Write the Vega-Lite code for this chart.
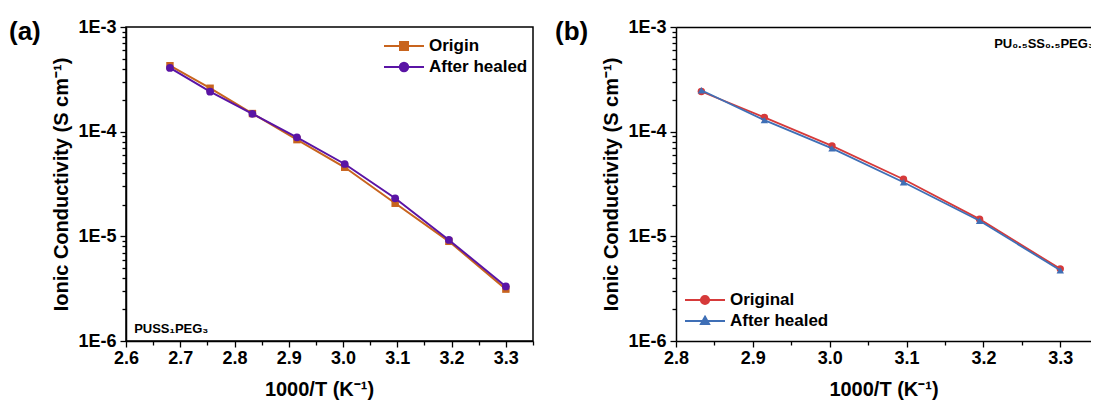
{
  "$schema": "https://vega.github.io/schema/vega-lite/v6.json",
  "background": "white",
  "padding": {"left": 8, "top": 17, "right": 0, "bottom": 0},
  "config": {
    "font": "Liberation Sans",
    "view": {"stroke": "black", "strokeWidth": 1.5},
    "axis": {
      "grid": false,
      "domainColor": "black",
      "domainWidth": 1.5,
      "tickColor": "black",
      "tickWidth": 1.3,
      "labelFont": "Liberation Sans",
      "labelFontWeight": "bold",
      "labelFontSize": 18,
      "labelColor": "black",
      "titleFont": "Liberation Sans",
      "titleFontWeight": "bold",
      "titleFontSize": 20,
      "titleColor": "black"
    },
    "legend": {
      "labelFont": "Liberation Sans",
      "labelFontWeight": "bold",
      "labelFontSize": 17,
      "labelColor": "black",
      "labelOffset": 14,
      "symbolSize": 400,
      "symbolStrokeWidth": 2,
      "rowPadding": 2,
      "padding": 0,
      "title": null
    },
    "title": {"fontSize": 26, "fontWeight": "bold", "color": "black", "anchor": "start", "frame": "group", "font": "Liberation Sans"}
  },
  "datasets": {
    "conductivity": [
      {"panel": "a", "series": "Origin", "invT": 2.681, "sigma": 4.27e-4},
      {"panel": "a", "series": "Origin", "invT": 2.755, "sigma": 2.60e-4},
      {"panel": "a", "series": "Origin", "invT": 2.833, "sigma": 1.49e-4},
      {"panel": "a", "series": "Origin", "invT": 2.915, "sigma": 8.39e-5},
      {"panel": "a", "series": "Origin", "invT": 3.003, "sigma": 4.57e-5},
      {"panel": "a", "series": "Origin", "invT": 3.096, "sigma": 2.07e-5},
      {"panel": "a", "series": "Origin", "invT": 3.195, "sigma": 8.96e-6},
      {"panel": "a", "series": "Origin", "invT": 3.300, "sigma": 3.13e-6},
      {"panel": "a", "series": "After healed", "invT": 2.681, "sigma": 4.06e-4},
      {"panel": "a", "series": "After healed", "invT": 2.755, "sigma": 2.41e-4},
      {"panel": "a", "series": "After healed", "invT": 2.833, "sigma": 1.48e-4},
      {"panel": "a", "series": "After healed", "invT": 2.915, "sigma": 8.83e-5},
      {"panel": "a", "series": "After healed", "invT": 3.003, "sigma": 4.91e-5},
      {"panel": "a", "series": "After healed", "invT": 3.096, "sigma": 2.31e-5},
      {"panel": "a", "series": "After healed", "invT": 3.195, "sigma": 9.23e-6},
      {"panel": "a", "series": "After healed", "invT": 3.300, "sigma": 3.32e-6},
      {"panel": "b", "series": "Original", "invT": 2.833, "sigma": 2.42e-4},
      {"panel": "b", "series": "Original", "invT": 2.915, "sigma": 1.37e-4},
      {"panel": "b", "series": "Original", "invT": 3.003, "sigma": 7.31e-5},
      {"panel": "b", "series": "Original", "invT": 3.096, "sigma": 3.51e-5},
      {"panel": "b", "series": "Original", "invT": 3.195, "sigma": 1.46e-5},
      {"panel": "b", "series": "Original", "invT": 3.300, "sigma": 4.89e-6},
      {"panel": "b", "series": "After healed", "invT": 2.833, "sigma": 2.49e-4},
      {"panel": "b", "series": "After healed", "invT": 2.915, "sigma": 1.29e-4},
      {"panel": "b", "series": "After healed", "invT": 3.003, "sigma": 6.93e-5},
      {"panel": "b", "series": "After healed", "invT": 3.096, "sigma": 3.29e-5},
      {"panel": "b", "series": "After healed", "invT": 3.195, "sigma": 1.41e-5},
      {"panel": "b", "series": "After healed", "invT": 3.300, "sigma": 4.74e-6}
    ],
    "notes": [
      {"panel": "a", "label": "PUSS₁PEG₃", "invT": 2.615, "sigma": 1.3e-6},
      {"panel": "b", "label": "PU₀.₅SS₀.₅PEG₃", "invT": 3.214, "sigma": 6.9e-4}
    ]
  },
  "hconcat": [
    {
      "width": 407,
      "height": 314,
      "title": {"text": "(a)", "dx": -117, "dy": 31},
      "data": {"name": "conductivity"},
      "layer": [
        {
          "transform": [{"filter": "datum.panel === 'a' && datum.series === 'Origin'"}],
          "mark": {"type": "line", "strokeWidth": 2},
          "encoding": {
            "x": {"field": "invT", "type": "quantitative",
              "scale": {"domain": [2.6, 3.35], "nice": false, "zero": false},
              "axis": {"title": "1000/T (K⁻¹)", "tickCount": 100, "values": [2.6, 2.65, 2.7, 2.75, 2.8, 2.85, 2.9, 2.95, 3.0, 3.05, 3.1, 3.15, 3.2, 3.25, 3.3, 3.35],
                "labelExpr": "abs(datum.value * 10 - round(datum.value * 10)) < 0.001 ? format(datum.value, '.1f') : ''",
                "tickSize": {"condition": {"test": "abs(datum.value * 10 - round(datum.value * 10)) < 0.001", "value": 6}, "value": 4},
                "labelPadding": 2, "titlePadding": 12, "titleX": 193, "labelFlush": false, "labelOverlap": false}},
            "y": {"field": "sigma", "type": "quantitative",
              "scale": {"type": "log", "domain": [1e-6, 1e-3], "nice": false},
              "axis": {"title": "Ionic Conductivity (S cm⁻¹)", "tickCount": 100,
                "values": [1e-6, 2e-6, 3e-6, 4e-6, 5e-6, 6e-6, 7e-6, 8e-6, 9e-6, 1e-5, 2e-5, 3e-5, 4e-5, 5e-5, 6e-5, 7e-5, 8e-5, 9e-5, 1e-4, 2e-4, 3e-4, 4e-4, 5e-4, 6e-4, 7e-4, 8e-4, 9e-4, 1e-3],
                "labelExpr": "abs(log(datum.value) / LN10 - round(log(datum.value) / LN10)) < 0.001 ? '1E' + round(log(datum.value) / LN10) : ''",
                "tickSize": {"condition": {"test": "abs(log(datum.value) / LN10 - round(log(datum.value) / LN10)) < 0.001", "value": 6}, "value": 4},
                "labelPadding": 4, "titlePadding": 6, "labelFlush": false, "labelOverlap": false}},
            "color": {"field": "series", "type": "nominal",
              "scale": {"domain": ["Origin", "After healed"], "range": ["#c8641e", "#5a14a5"]},
              "legend": {"orient": "none", "legendX": 267, "legendY": 8,
                "encode": {"symbols": {"update": {
                  "shape": {"signal": "datum.value === 'Origin' ? 'M-2,0H2M-0.4,-0.4H0.4V0.4H-0.4Z' : 'M-2,0H2M0.42,0A0.42,0.42,0,1,1,-0.42,0A0.42,0.42,0,1,1,0.42,0Z'"},
                  "fill": {"signal": "datum.value === 'Origin' ? '#c8641e' : '#5a14a5'"},
                  "stroke": {"signal": "datum.value === 'Origin' ? '#c8641e' : '#5a14a5'"},
                  "strokeWidth": {"value": 2},
                  "opacity": {"value": 1}
                }}}}}
          }
        },
        {
          "transform": [{"filter": "datum.panel === 'a' && datum.series === 'Origin'"}],
          "mark": {"type": "point", "shape": "square", "filled": true, "size": 55, "opacity": 1},
          "encoding": {
            "x": {"field": "invT", "type": "quantitative"},
            "y": {"field": "sigma", "type": "quantitative"},
            "color": {"field": "series", "type": "nominal"}
          }
        },
        {
          "transform": [{"filter": "datum.panel === 'a' && datum.series === 'After healed'"}],
          "mark": {"type": "line", "strokeWidth": 2},
          "encoding": {
            "x": {"field": "invT", "type": "quantitative"},
            "y": {"field": "sigma", "type": "quantitative"},
            "color": {"field": "series", "type": "nominal"}
          }
        },
        {
          "transform": [{"filter": "datum.panel === 'a' && datum.series === 'After healed'"}],
          "mark": {"type": "point", "shape": "circle", "filled": true, "size": 60, "opacity": 1},
          "encoding": {
            "x": {"field": "invT", "type": "quantitative"},
            "y": {"field": "sigma", "type": "quantitative"},
            "color": {"field": "series", "type": "nominal"}
          }
        },
        {
          "data": {"name": "notes"},
          "transform": [{"filter": "datum.panel === 'a'"}],
          "mark": {"type": "text", "align": "left", "baseline": "middle", "fontSize": 13, "fontWeight": "bold", "color": "black", "font": "Liberation Sans"},
          "encoding": {
            "x": {"field": "invT", "type": "quantitative"},
            "y": {"field": "sigma", "type": "quantitative"},
            "text": {"field": "label"}
          }
        }
      ]
    },
    {
      "width": 415,
      "height": 314,
      "title": {"text": "(b)", "dx": -121, "dy": 31},
      "view": {"stroke": null},
      "data": {"name": "conductivity"},
      "resolve": {"axis": {"x": "independent"}},
      "layer": [
        {
          "transform": [{"filter": "datum.panel === 'b' && datum.series === 'Original'"}],
          "mark": {"type": "line", "strokeWidth": 1.8},
          "encoding": {
            "x": {"field": "invT", "type": "quantitative",
              "scale": {"domain": [2.8, 3.34], "nice": false, "zero": false},
              "axis": {"title": "1000/T (K⁻¹)", "tickCount": 100, "values": [2.8, 2.85, 2.9, 2.95, 3.0, 3.05, 3.1, 3.15, 3.2, 3.25, 3.3],
                "labelExpr": "abs(datum.value * 10 - round(datum.value * 10)) < 0.001 ? format(datum.value, '.1f') : ''",
                "tickSize": {"condition": {"test": "abs(datum.value * 10 - round(datum.value * 10)) < 0.001", "value": 6}, "value": 4},
                "labelPadding": 2, "titlePadding": 12, "labelFlush": false, "labelOverlap": false}},
            "y": {"field": "sigma", "type": "quantitative",
              "scale": {"type": "log", "domain": [1e-6, 1e-3], "nice": false},
              "axis": {"title": "Ionic Conductivity (S cm⁻¹)", "tickCount": 100,
                "values": [1e-6, 2e-6, 3e-6, 4e-6, 5e-6, 6e-6, 7e-6, 8e-6, 9e-6, 1e-5, 2e-5, 3e-5, 4e-5, 5e-5, 6e-5, 7e-5, 8e-5, 9e-5, 1e-4, 2e-4, 3e-4, 4e-4, 5e-4, 6e-4, 7e-4, 8e-4, 9e-4, 1e-3],
                "labelExpr": "abs(log(datum.value) / LN10 - round(log(datum.value) / LN10)) < 0.001 ? '1E' + round(log(datum.value) / LN10) : ''",
                "tickSize": {"condition": {"test": "abs(log(datum.value) / LN10 - round(log(datum.value) / LN10)) < 0.001", "value": 6}, "value": 4},
                "labelPadding": 4, "titlePadding": 6, "labelFlush": false, "labelOverlap": false}},
            "color": {"field": "series", "type": "nominal",
              "scale": {"domain": ["Original", "After healed"], "range": ["#d63a3a", "#3f6fb6"]},
              "legend": {"orient": "none", "legendX": 18, "legendY": 262,
                "encode": {"symbols": {"update": {
                  "shape": {"signal": "datum.value === 'Original' ? 'M-2,0H2M0.42,0A0.42,0.42,0,1,1,-0.42,0A0.42,0.42,0,1,1,0.42,0Z' : 'M-2,0H2M0,-0.45L0.42,0.3H-0.42Z'"},
                  "fill": {"signal": "datum.value === 'Original' ? '#d63a3a' : '#3f6fb6'"},
                  "stroke": {"signal": "datum.value === 'Original' ? '#d63a3a' : '#3f6fb6'"},
                  "strokeWidth": {"value": 1.8},
                  "opacity": {"value": 1}
                }}}}}
          }
        },
        {
          "transform": [{"filter": "datum.panel === 'b' && datum.series === 'Original'"}],
          "mark": {"type": "point", "shape": "circle", "filled": true, "size": 55, "opacity": 1},
          "encoding": {
            "x": {"field": "invT", "type": "quantitative", "axis": null},
            "y": {"field": "sigma", "type": "quantitative"},
            "color": {"field": "series", "type": "nominal"}
          }
        },
        {
          "transform": [{"filter": "datum.panel === 'b' && datum.series === 'After healed'"}],
          "mark": {"type": "line", "strokeWidth": 1.8},
          "encoding": {
            "x": {"field": "invT", "type": "quantitative", "axis": null},
            "y": {"field": "sigma", "type": "quantitative"},
            "color": {"field": "series", "type": "nominal"}
          }
        },
        {
          "transform": [{"filter": "datum.panel === 'b' && datum.series === 'After healed'"}],
          "mark": {"type": "point", "shape": "triangle-up", "filled": true, "size": 55, "opacity": 1},
          "encoding": {
            "x": {"field": "invT", "type": "quantitative", "axis": null},
            "y": {"field": "sigma", "type": "quantitative"},
            "color": {"field": "series", "type": "nominal"}
          }
        },
        {
          "data": {"name": "notes"},
          "transform": [{"filter": "datum.panel === 'b'"}],
          "mark": {"type": "text", "align": "left", "baseline": "middle", "fontSize": 13, "fontWeight": "bold", "color": "black", "font": "Liberation Sans", "clip": true},
          "encoding": {
            "x": {"field": "invT", "type": "quantitative",
              "axis": {"orient": "top", "labels": false, "ticks": false, "title": null, "domain": true}},
            "y": {"field": "sigma", "type": "quantitative"},
            "text": {"field": "label"}
          }
        }
      ]
    }
  ],
  "spacing": 143,
  "bounds": "flush",
  "resolve": {"scale": {"color": "independent", "x": "independent", "y": "independent"}, "legend": {"color": "independent"}}
}
